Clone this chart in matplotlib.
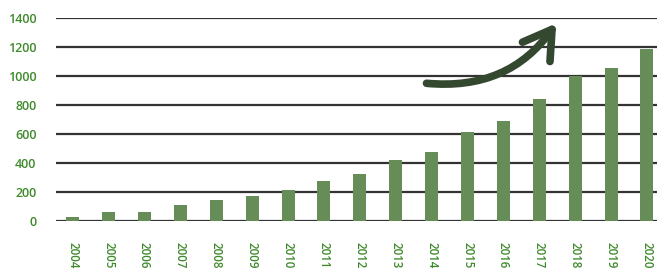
import numpy as np
import matplotlib.pyplot as plt
from matplotlib.patches import FancyArrowPatch

years = [str(y) for y in range(2004, 2021)]
values = [28, 60, 60, 110, 145, 172, 216, 278, 322, 419, 478, 612, 692, 841, 998, 1053, 1184]
yticks = [0, 200, 400, 600, 800, 1000, 1200, 1400]

bar_color = '#668c57'
text_color = '#3f8a2c'

plt.rcParams['font.family'] = ['Open Sans', 'DejaVu Sans']

fig = plt.figure(figsize=(6.57, 2.69), dpi=100)
ax = fig.add_axes([0.085, 0.178, 0.915, 0.755])

x = np.arange(len(years))
ax.bar(x, values, width=0.36, color=bar_color, zorder=3)

ax.set_ylim(0, 1400)
ax.set_xlim(-0.47, len(years) - 1 + 0.28)
ax.set_yticks(yticks)
ax.set_yticklabels([str(v) for v in yticks], color=text_color, fontsize=9, fontweight='semibold')
ax.set_xticks(x)
ax.set_xticklabels(years, rotation=270, color=text_color, fontsize=8.3,
                   fontweight='semibold', va='top')
ax.tick_params(axis='y', length=0, pad=14)
ax.tick_params(axis='x', length=0, pad=15)
ax.grid(axis='y', color='#333333', linewidth=1.6, zorder=0)
for s in ax.spines.values():
    s.set_visible(False)

arrow = FancyArrowPatch((0.612, 0.68), (0.835, 0.985), transform=ax.transAxes,
                        connectionstyle='arc3,rad=0.3',
                        arrowstyle='->,head_length=0.9,head_width=0.55',
                        mutation_scale=22, lw=5.5, color='#34482f', zorder=5,
                        capstyle='round', joinstyle='round')
ax.add_patch(arrow)

fig.savefig('out.png', dpi=100)
